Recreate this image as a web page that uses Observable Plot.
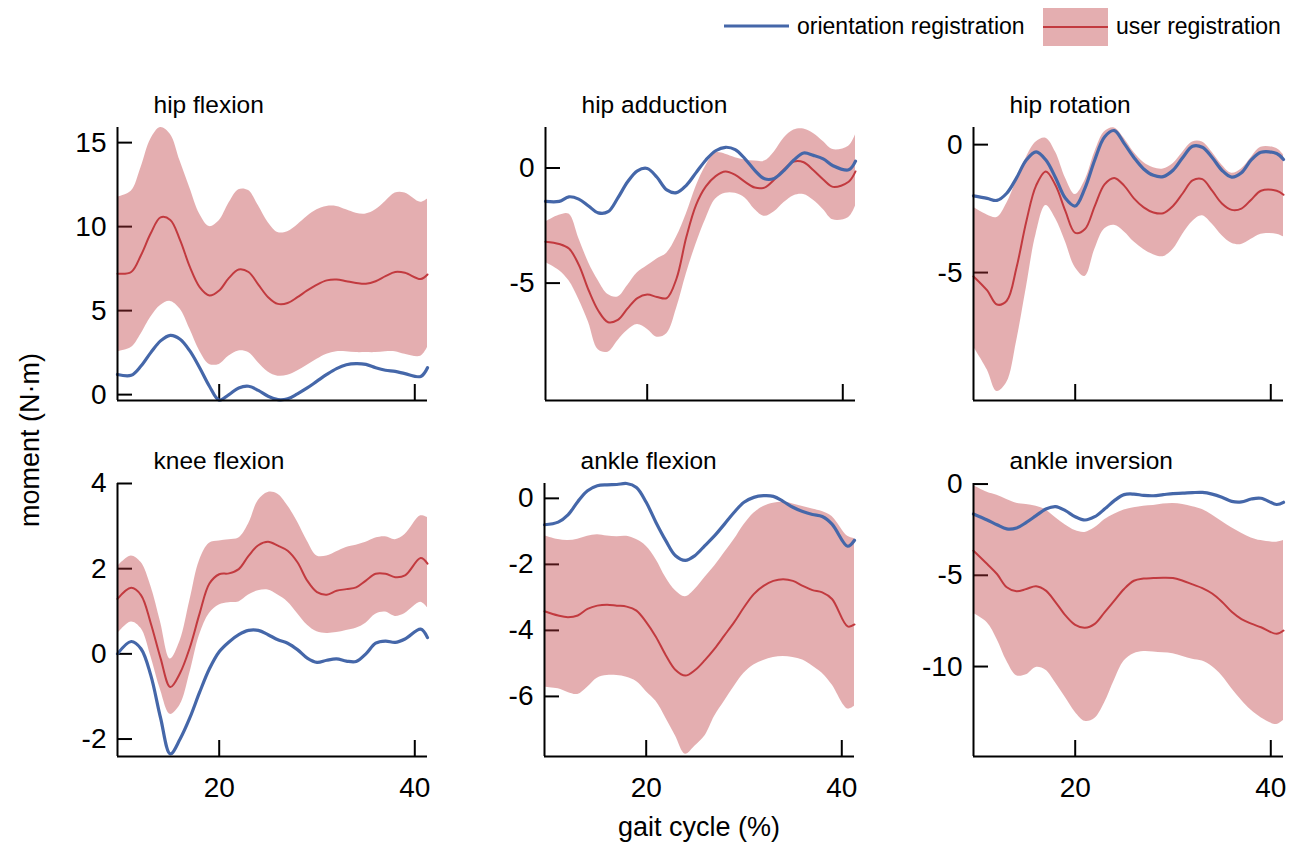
<!DOCTYPE html>
<html>
<head>
<meta charset="utf-8">
<title>Joint moments over the gait cycle</title>
<script src="https://cdn.jsdelivr.net/npm/d3@7"></script>
<script src="https://cdn.jsdelivr.net/npm/@observablehq/plot@0.6"></script>
<style>
html,body{margin:0;padding:0;background:#fff;}
#root{position:relative;width:1298px;height:848px;overflow:hidden;font-family:"Liberation Sans",Arial,Helvetica,sans-serif;color:#000;}
#root .panel{position:absolute;}
#overlay{position:absolute;left:0;top:0;}
</style>
</head>
<body>
<div id="root"></div>
<script>
// ---------- data ----------
const gait = [9.6, 11, 12, 13, 14, 15, 16, 17, 18, 19, 20, 21, 22, 23, 24, 25, 26, 27, 28, 29, 30, 31, 32, 33, 34, 35, 36, 37, 38, 39, 40.6, 41.3];
const xDomain = [9.6, 41.3];
const xTicks = [20, 40];
const seriesNames = ["orientation registration", "user registration"];
const titles = ["hip flexion", "hip adduction", "hip rotation", "knee flexion", "ankle flexion", "ankle inversion"];

const hipFlexionOrient = [1.2, 1.15, 1.7, 2.5, 3.2, 3.53, 3.3, 2.6, 1.6, 0.5, -0.33, 0.0, 0.4, 0.5, 0.25, -0.1, -0.3, -0.25, 0.05, 0.4, 0.8, 1.2, 1.55, 1.78, 1.85, 1.8, 1.6, 1.45, 1.38, 1.25, 1.08, 1.6];
const hipFlexionMean = [7.2, 7.3, 8.3, 9.6, 10.55, 10.4, 9.2, 7.6, 6.4, 5.9, 6.2, 6.95, 7.45, 7.3, 6.55, 5.8, 5.4, 5.45, 5.8, 6.2, 6.55, 6.8, 6.85, 6.75, 6.65, 6.6, 6.75, 7.05, 7.3, 7.25, 6.88, 7.15];
const hipFlexionUpper = [11.75, 12.1, 13.5, 15.2, 15.9, 15.5, 13.9, 12.3, 10.75, 10.0, 10.35, 11.4, 12.2, 12.15, 11.25, 10.25, 9.65, 9.7, 10.1, 10.6, 11.0, 11.2, 11.2, 11.0, 10.8, 10.75, 11.0, 11.5, 12.0, 12.0, 11.45, 11.65];
const hipFlexionLower = [2.55, 2.8, 3.6, 4.6, 5.3, 5.55, 5.1, 3.9, 2.6, 1.8, 1.8, 2.3, 2.6, 2.5, 1.9, 1.35, 1.1, 1.15, 1.4, 1.75, 2.1, 2.4, 2.55, 2.55, 2.5, 2.5, 2.5, 2.55, 2.55, 2.4, 2.28, 2.8];
const hipFlexionDomain = [-0.35, 15.9];
const hipFlexionTicks = [0, 5, 10, 15];

const hipAdductionOrient = [-1.45, -1.45, -1.25, -1.35, -1.65, -1.95, -1.9, -1.3, -0.6, -0.12, -0.02, -0.4, -0.95, -1.07, -0.75, -0.2, 0.35, 0.75, 0.9, 0.8, 0.4, -0.1, -0.47, -0.45, -0.1, 0.35, 0.65, 0.55, 0.4, 0.1, -0.08, 0.3];
const hipAdductionMean = [-3.2, -3.3, -3.5, -4.2, -5.3, -6.2, -6.7, -6.6, -6.1, -5.65, -5.5, -5.6, -5.65, -4.8, -3.0, -1.6, -0.8, -0.35, -0.15, -0.3, -0.6, -0.85, -0.85, -0.5, -0.05, 0.28, 0.25, -0.1, -0.5, -0.82, -0.6, -0.15];
const hipAdductionUpper = [-2.35, -2.05, -2.0, -3.05, -4.1, -4.9, -5.5, -5.6, -5.1, -4.55, -4.25, -3.95, -3.7, -3.0, -2.0, -0.8, 0.1, 0.65, 0.6, 0.45, 0.35, 0.3, 0.3, 0.7, 1.3, 1.65, 1.7, 1.5, 1.15, 0.8, 0.95, 1.45];
const hipAdductionLower = [-4.1, -4.45, -4.9, -5.7, -6.7, -7.9, -8.0, -7.5, -7.05, -6.8, -7.0, -7.35, -7.2, -6.1, -4.6, -3.3, -2.2, -1.35, -1.1, -1.1, -1.3, -1.8, -2.1, -1.9, -1.5, -1.2, -1.15, -1.4, -1.8, -2.25, -2.15, -1.65];
const hipAdductionDomain = [-10.1, 1.76];
const hipAdductionTicks = [-5, 0];

const hipRotationOrient = [-2.0, -2.1, -2.18, -1.9, -1.3, -0.6, -0.28, -0.6, -1.3, -2.1, -2.4, -1.7, -0.6, 0.3, 0.55, 0.05, -0.5, -0.95, -1.2, -1.25, -1.0, -0.5, -0.06, -0.1, -0.5, -1.0, -1.27, -1.1, -0.6, -0.3, -0.35, -0.58];
const hipRotationMean = [-5.15, -5.7, -6.25, -6.1, -4.8, -3.0, -1.6, -1.05, -1.6, -2.6, -3.45, -3.3, -2.4, -1.55, -1.3, -1.6, -2.1, -2.45, -2.65, -2.68, -2.4, -1.9, -1.4, -1.35, -1.8, -2.3, -2.55, -2.5, -2.15, -1.8, -1.8, -1.96];
const hipRotationUpper = [-2.45, -2.75, -2.85, -2.3, -1.4, -0.5, 0.1, 0.25, -0.3, -1.3, -1.95, -1.4, -0.3, 0.5, 0.65, 0.25, -0.3, -0.7, -0.9, -0.95, -0.75, -0.3, 0.1, 0.1, -0.3, -0.8, -1.12, -0.95, -0.5, -0.1, -0.15, -0.4];
const hipRotationLower = [-7.9, -8.8, -9.65, -9.3, -7.7, -5.6, -3.5, -2.38, -2.9, -3.8, -4.8, -5.15, -4.1, -3.3, -3.15, -3.4, -3.8, -4.1, -4.3, -4.38, -4.1, -3.5, -3.0, -2.78, -3.1, -3.55, -3.85, -3.9, -3.7, -3.5, -3.5, -3.6];
const hipRotationDomain = [-10.0, 0.67];
const hipRotationTicks = [-5, 0];

const kneeFlexionOrient = [0.0, 0.29, 0.12, -0.5, -1.5, -2.35, -2.0, -1.5, -0.9, -0.35, 0.05, 0.28, 0.45, 0.55, 0.55, 0.45, 0.33, 0.25, 0.1, -0.1, -0.2, -0.15, -0.12, -0.17, -0.18, 0.0, 0.25, 0.3, 0.27, 0.35, 0.58, 0.38];
const kneeFlexionMean = [1.29, 1.55, 1.38, 0.72, -0.1, -0.78, -0.45, 0.15, 0.95, 1.65, 1.87, 1.89, 1.99, 2.3, 2.55, 2.63, 2.54, 2.42, 2.15, 1.72, 1.45, 1.39, 1.48, 1.52, 1.56, 1.72, 1.88, 1.88, 1.8, 1.84, 2.25, 2.12];
const kneeFlexionUpper = [2.05, 2.3, 2.15, 1.6, 0.75, -0.12, 0.3, 1.25, 2.2, 2.6, 2.65, 2.68, 2.72, 3.05, 3.6, 3.79, 3.75, 3.48, 3.1, 2.65, 2.3, 2.3, 2.4, 2.5, 2.55, 2.62, 2.72, 2.75, 2.68, 2.8, 3.24, 3.2];
const kneeFlexionLower = [0.47, 0.75, 0.6, -0.05, -0.85, -1.42, -1.2, -0.45, 0.45, 0.95, 1.15, 1.2, 1.22, 1.38, 1.48, 1.5, 1.38, 1.22, 0.95, 0.68, 0.52, 0.48, 0.5, 0.55, 0.6, 0.72, 0.93, 0.98, 0.88, 0.95, 1.21, 1.08];
const kneeFlexionDomain = [-2.41, 4.0];
const kneeFlexionTicks = [-2, 0, 2, 4];

const ankleFlexionOrient = [-0.8, -0.72, -0.5, -0.1, 0.23, 0.38, 0.41, 0.42, 0.45, 0.33, -0.12, -0.73, -1.28, -1.74, -1.88, -1.73, -1.43, -1.13, -0.78, -0.42, -0.12, 0.03, 0.08, 0.06, -0.09, -0.27, -0.4, -0.49, -0.55, -0.78, -1.45, -1.27];
const ankleFlexionMean = [-3.42, -3.55, -3.6, -3.55, -3.35, -3.25, -3.22, -3.25, -3.28, -3.4, -3.75, -4.2, -4.75, -5.2, -5.37, -5.2, -4.9, -4.55, -4.15, -3.75, -3.3, -2.9, -2.65, -2.5, -2.45, -2.5, -2.65, -2.78, -2.85, -3.05, -3.88, -3.82];
const ankleFlexionUpper = [-1.13, -1.25, -1.28, -1.24, -1.15, -1.1, -1.14, -1.16, -1.15, -1.25, -1.45, -1.85, -2.4, -2.8, -2.98, -2.75, -2.4, -2.05, -1.65, -1.25, -0.8, -0.45, -0.25, -0.15, -0.12, -0.17, -0.25, -0.32, -0.4, -0.55, -1.15, -1.22];
const ankleFlexionLower = [-5.72, -5.77, -5.88, -5.94, -5.72, -5.45, -5.37, -5.37, -5.42, -5.55, -5.85, -6.15, -6.65, -7.2, -7.75, -7.5, -7.2, -6.6, -6.15, -5.7, -5.3, -5.05, -4.91, -4.82, -4.79, -4.82, -4.9, -5.08, -5.3, -5.65, -6.38, -6.3];
const ankleFlexionDomain = [-7.82, 0.45];
const ankleFlexionTicks = [-6, -4, -2, 0];

const ankleInversionOrient = [-1.64, -1.97, -2.23, -2.46, -2.41, -2.1, -1.73, -1.37, -1.24, -1.46, -1.79, -1.97, -1.79, -1.37, -0.91, -0.58, -0.55, -0.62, -0.64, -0.58, -0.52, -0.5, -0.47, -0.46, -0.55, -0.72, -0.95, -0.98, -0.82, -0.78, -1.12, -1.0];
const ankleInversionMean = [-3.65, -4.38, -4.93, -5.66, -5.88, -5.75, -5.6, -5.84, -6.48, -7.2, -7.72, -7.88, -7.66, -7.03, -6.39, -5.75, -5.3, -5.18, -5.15, -5.13, -5.15, -5.3, -5.5, -5.7, -6.0, -6.45, -7.0, -7.4, -7.65, -7.85, -8.21, -8.03];
const ankleInversionUpper = [-0.1, -0.45, -0.62, -0.85, -1.05, -1.12, -1.22, -1.42, -1.85, -2.25, -2.55, -2.65, -2.4, -1.95, -1.65, -1.42, -1.3, -1.22, -1.18, -1.1, -1.06, -1.12, -1.25, -1.4, -1.7, -2.05, -2.4, -2.7, -2.95, -3.1, -3.19, -3.1];
const ankleInversionLower = [-7.1, -7.6, -8.5, -9.7, -10.5, -10.45, -10.05, -10.2, -10.9, -11.7, -12.5, -13.0, -12.85, -12.0, -10.77, -9.7, -9.3, -9.18, -9.2, -9.25, -9.3, -9.45, -9.6, -9.7, -10.0, -10.5, -11.2, -11.85, -12.4, -12.8, -13.18, -12.95];
const ankleInversionDomain = [-14.93, 0.03];
const ankleInversionTicks = [-10, -5, 0];

// ---------- styling / layout (kept apart from the data) ----------
const BLUE = "#4567a9";
const RED = "#c23a3f";
const BAND = "#bb353a";
const BAND_OPACITY = 0.4;
const FONT = "'Liberation Sans', Arial, Helvetica, sans-serif";
const PW = 310, PH = 273;                 // plot frame size
const ML = 70, MR = 12, MT = 50;          // margins
const layout = [
  {left: 47, top: 77, showX: false},
  {left: 475, top: 77, showX: false},
  {left: 903, top: 77, showX: false},
  {left: 47, top: 433, showX: true},
  {left: 474, top: 433, showX: true},
  {left: 903, top: 433, showX: true}
];

const panels = [
  {orient: hipFlexionOrient, mean: hipFlexionMean, upper: hipFlexionUpper, lower: hipFlexionLower, domain: hipFlexionDomain, ticks: hipFlexionTicks},
  {orient: hipAdductionOrient, mean: hipAdductionMean, upper: hipAdductionUpper, lower: hipAdductionLower, domain: hipAdductionDomain, ticks: hipAdductionTicks},
  {orient: hipRotationOrient, mean: hipRotationMean, upper: hipRotationUpper, lower: hipRotationLower, domain: hipRotationDomain, ticks: hipRotationTicks},
  {orient: kneeFlexionOrient, mean: kneeFlexionMean, upper: kneeFlexionUpper, lower: kneeFlexionLower, domain: kneeFlexionDomain, ticks: kneeFlexionTicks},
  {orient: ankleFlexionOrient, mean: ankleFlexionMean, upper: ankleFlexionUpper, lower: ankleFlexionLower, domain: ankleFlexionDomain, ticks: ankleFlexionTicks},
  {orient: ankleInversionOrient, mean: ankleInversionMean, upper: ankleInversionUpper, lower: ankleInversionLower, domain: ankleInversionDomain, ticks: ankleInversionTicks}
];

const fmt = d => (d < 0 ? "-" + Math.abs(d) : String(d));
const root = document.getElementById("root");

panels.forEach((p, k) => {
  const L = layout[k];
  const MB = L.showX ? 62 : 12;
  const rows = gait.map((g, i) => ({gait: g, orient: p.orient[i], mean: p.mean[i], upper: p.upper[i], lower: p.lower[i]}));
  const marks = [
    Plot.tickY(p.ticks, {y: d => d, stroke: "#000", strokeWidth: 2, insetRight: PW - 15}),
    Plot.tickX(xTicks, {x: d => d, stroke: "#000", strokeWidth: 2, insetTop: PH - 16}),
    Plot.areaY(rows, {x: "gait", y1: "lower", y2: "upper", fill: BAND, fillOpacity: BAND_OPACITY, curve: "catmull-rom"}),
    Plot.lineY(rows, {x: "gait", y: "mean", stroke: RED, strokeWidth: 2, curve: "catmull-rom"}),
    Plot.lineY(rows, {x: "gait", y: "orient", stroke: BLUE, strokeWidth: 3.2, curve: "catmull-rom"}),
    Plot.ruleX([xDomain[0]], {stroke: "#000", strokeWidth: 2}),
    Plot.ruleY([p.domain[0]], {stroke: "#000", strokeWidth: 2}),
    Plot.axisY({ticks: p.ticks, tickSize: 0, tickPadding: 11, fontSize: 28, tickFormat: fmt, label: null}),
    Plot.text([titles[k]], {text: d => d, frameAnchor: "top-left", lineAnchor: "bottom", dx: 36, dy: -15, fontSize: 24.5, fontWeight: "normal", textAnchor: "start"})
  ];
  if (L.showX) marks.push(Plot.axisX({ticks: xTicks, tickSize: 0, tickPadding: 21, fontSize: 28, tickFormat: fmt, label: null}));
  const chart = Plot.plot({
    width: ML + PW + MR,
    height: MT + PH + MB,
    marginLeft: ML, marginRight: MR, marginTop: MT, marginBottom: MB,
    x: L.showX ? {domain: xDomain} : {domain: xDomain, axis: null},
    y: {domain: p.domain},
    style: {fontFamily: FONT, color: "#000", background: "transparent", overflow: "visible"},
    marks
  });
  chart.classList.add("panel");
  chart.style.left = L.left + "px";
  chart.style.top = L.top + "px";
  root.appendChild(chart);
});

// ---------- legend and shared axis titles ----------
const ov = d3.select(root).append("svg").attr("id", "overlay")
  .attr("width", 1298).attr("height", 848)
  .style("font-family", FONT).style("pointer-events", "none");

ov.append("line").attr("x1", 724).attr("x2", 789).attr("y1", 26).attr("y2", 26)
  .attr("stroke", BLUE).attr("stroke-width", 3);
ov.append("text").attr("x", 797).attr("y", 34).attr("font-size", 23).text(seriesNames[0]);
ov.append("rect").attr("x", 1043).attr("y", 8).attr("width", 65).attr("height", 38)
  .attr("fill", BAND).attr("fill-opacity", BAND_OPACITY);
ov.append("line").attr("x1", 1043).attr("x2", 1108).attr("y1", 27).attr("y2", 27)
  .attr("stroke", RED).attr("stroke-width", 2);
ov.append("text").attr("x", 1116).attr("y", 34).attr("font-size", 23).text(seriesNames[1]);

ov.append("text").attr("transform", "translate(39,440) rotate(-90)")
  .attr("text-anchor", "middle").attr("font-size", 27).text("moment (N·m)");
ov.append("text").attr("x", 699).attr("y", 836)
  .attr("text-anchor", "middle").attr("font-size", 27).text("gait cycle (%)");
</script>
</body>
</html>
